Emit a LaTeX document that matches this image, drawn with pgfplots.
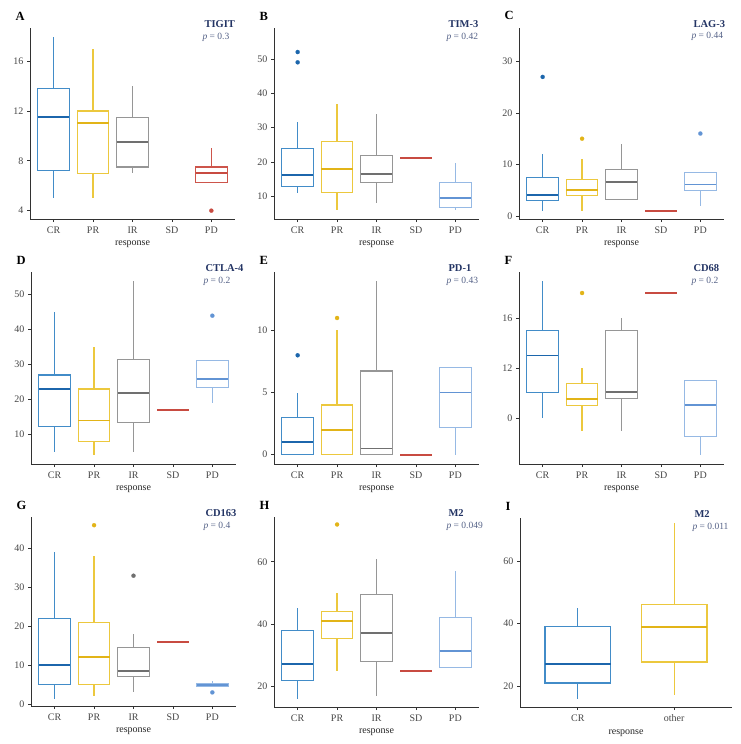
\documentclass[border=0pt]{standalone}
\usepackage{fontspec}
\setmainfont{Liberation Serif}
\usepackage{pgfplots}
\pgfplotsset{compat=1.18}
\usepgfplotslibrary{statistics}
\definecolor{cr}{RGB}{66,140,200}
\definecolor{crM}{RGB}{28,102,172}
\definecolor{pr}{RGB}{236,200,62}
\definecolor{prM}{RGB}{226,180,24}
\definecolor{ir}{RGB}{150,150,150}
\definecolor{irM}{RGB}{112,112,112}
\definecolor{sd}{RGB}{205,85,75}
\definecolor{sdM}{RGB}{200,75,65}
\definecolor{pd}{RGB}{150,185,228}
\definecolor{pdM}{RGB}{98,148,212}
\definecolor{ttl}{RGB}{35,52,100}
\definecolor{pval}{RGB}{85,98,135}
\definecolor{axc}{RGB}{50,50,50}
\definecolor{tlc}{RGB}{70,70,70}
\pgfplotsset{
 panel/.style={scale only axis, width=205pt, height=191pt, anchor=south west,
   axis x line*=bottom, axis y line*=left,
   xmin=0.4, xmax=5.6, xtick={1,2,3,4,5}, xticklabels={CR,PR,IR,SD,PD},
   tick align=outside, major tick length=3pt,
   every tick/.style={axc, line width=0.7pt},
   axis line style={axc, line width=0.8pt},
   ticklabel style={font=\fontsize{10}{12}\selectfont, text=tlc},
   xticklabel style={yshift=-1pt},
   /pgf/number format/assume math mode=true,
   xlabel={response}, xlabel style={font=\fontsize{10}{12}\selectfont, text=black!85, yshift=-1pt},
   clip=false,
 },
 bx/.style={draw=#1, line width=1.2pt, solid, mark=*, mark size=2.1pt,
   mark options={fill=#1M, draw=#1M, line width=0.1pt, solid},
   boxplot/draw direction=y,
   boxplot/every median/.style={draw=#1M, line width=1.9pt},
   boxplot/box extend=0.8, boxplot/whisker extend=0},
}
\newcommand{\ann}[3]{%
  \node[anchor=base west, font=\fontsize{12.5}{14}\selectfont\bfseries, xshift=-18pt, yshift=8pt] at (rel axis cs:0,1) {#1};
  \node[anchor=base west, font=\fontsize{10.5}{12}\selectfont\bfseries, text=ttl, xshift=171pt, yshift=0.5pt] at (rel axis cs:0,1) {#2};
  \node[anchor=base west, font=\fontsize{9.5}{12}\selectfont, text=pval, xshift=169pt, yshift=-11pt] at (rel axis cs:0,1) {\textit{p} = #3};
}
\begin{document}
\begin{tikzpicture}
\path[use as bounding box] (0,0) rectangle (741pt,-744pt);
% A
\begin{axis}[panel, at={(30pt,-219pt)}, ymin=3.33, ymax=18.65, ytick={4,8,12,16}]
\addplot[bx=cr, boxplot prepared={draw position=1, lower whisker=5, lower quartile=7.2, median=11.5, upper quartile=13.8, upper whisker=17.9}] coordinates {};
\addplot[bx=pr, boxplot prepared={draw position=2, lower whisker=5, lower quartile=7, median=11, upper quartile=12, upper whisker=17}] coordinates {};
\addplot[bx=ir, boxplot prepared={draw position=3, lower whisker=7, lower quartile=7.5, median=9.5, upper quartile=11.5, upper whisker=14}] coordinates {};
\addplot[bx=sd, boxplot prepared={draw position=5, lower whisker=6.25, lower quartile=6.25, median=7, upper quartile=7.5, upper whisker=9}] coordinates {(0,4)};
\ann{A}{TIGIT}{0.3}
\end{axis}
% B
\begin{axis}[panel, at={(274pt,-219pt)}, ymin=3.35, ymax=59, ytick={10,20,30,40,50}]
\addplot[bx=cr, boxplot prepared={draw position=1, lower whisker=11, lower quartile=12.9, median=16.1, upper quartile=23.9, upper whisker=31.7}] coordinates {(0,49) (0,52)};
\addplot[bx=pr, boxplot prepared={draw position=2, lower whisker=6, lower quartile=11, median=18, upper quartile=26, upper whisker=37}] coordinates {};
\addplot[bx=ir, boxplot prepared={draw position=3, lower whisker=8, lower quartile=13.9, median=16.5, upper quartile=21.9, upper whisker=34}] coordinates {};
\addplot[bx=sd, boxplot prepared={draw position=4, lower whisker=21, lower quartile=21, median=21, upper quartile=21, upper whisker=21}] coordinates {};
\addplot[bx=pd, boxplot prepared={draw position=5, lower whisker=6, lower quartile=6.6, median=9.4, upper quartile=13.9, upper whisker=19.8}] coordinates {};
\ann{B}{TIM-3}{0.42}
\end{axis}
% C
\begin{axis}[panel, at={(519pt,-219pt)}, ymin=-0.6, ymax=36.5, ytick={0,10,20,30}]
\addplot[bx=cr, boxplot prepared={draw position=1, lower whisker=1, lower quartile=3, median=4.1, upper quartile=7.5, upper whisker=12}] coordinates {(0,27)};
\addplot[bx=pr, boxplot prepared={draw position=2, lower whisker=1, lower quartile=4, median=5, upper quartile=7, upper whisker=11}] coordinates {(0,15)};
\addplot[bx=ir, boxplot prepared={draw position=3, lower whisker=3, lower quartile=3.25, median=6.5, upper quartile=9, upper whisker=14}] coordinates {};
\addplot[bx=sd, boxplot prepared={draw position=4, lower whisker=1, lower quartile=1, median=1, upper quartile=1, upper whisker=1}] coordinates {};
\addplot[bx=pd, boxplot prepared={draw position=5, lower whisker=2, lower quartile=5, median=6.1, upper quartile=8.5, upper whisker=8.5}] coordinates {(0,16)};
\ann{C}{LAG-3}{0.44}
\end{axis}
% D
\begin{axis}[panel, at={(31pt,-464pt)}, height=192pt, ymin=1.56, ymax=56.5, ytick={10,20,30,40,50}]
\addplot[bx=cr, boxplot prepared={draw position=1, lower whisker=5, lower quartile=12.4, median=23, upper quartile=27, upper whisker=45}] coordinates {};
\addplot[bx=pr, boxplot prepared={draw position=2, lower whisker=4, lower quartile=8, median=14, upper quartile=23, upper whisker=35}] coordinates {};
\addplot[bx=ir, boxplot prepared={draw position=3, lower whisker=5, lower quartile=13.4, median=22, upper quartile=31.5, upper whisker=54}] coordinates {};
\addplot[bx=sd, boxplot prepared={draw position=4, lower whisker=17, lower quartile=17, median=17, upper quartile=17, upper whisker=17}] coordinates {};
\addplot[bx=pd, boxplot prepared={draw position=5, lower whisker=19, lower quartile=23.4, median=26, upper quartile=31.2, upper whisker=31.2}] coordinates {(0,44)};
\ann{D}{CTLA-4}{0.2}
\end{axis}
% E
\begin{axis}[panel, at={(274pt,-464pt)}, height=192pt, ymin=-0.75, ymax=14.7, ytick={0,5,10}]
\addplot[bx=cr, boxplot prepared={draw position=1, lower whisker=0, lower quartile=0, median=1, upper quartile=3, upper whisker=5}] coordinates {(0,8)};
\addplot[bx=pr, boxplot prepared={draw position=2, lower whisker=0, lower quartile=0, median=2, upper quartile=4, upper whisker=10}] coordinates {(0,11)};
\addplot[bx=ir, boxplot prepared={draw position=3, lower whisker=0, lower quartile=0, median=0.5, upper quartile=6.73, upper whisker=14}] coordinates {};
\addplot[bx=sd, boxplot prepared={draw position=4, lower whisker=0, lower quartile=0, median=0, upper quartile=0, upper whisker=0}] coordinates {};
\addplot[bx=pd, boxplot prepared={draw position=5, lower whisker=0, lower quartile=2.2, median=5, upper quartile=7, upper whisker=7}] coordinates {};
\ann{E}{PD-1}{0.43}
\end{axis}
% F
\begin{axis}[panel, at={(519pt,-464pt)}, height=192pt, ymin=4.32, ymax=19.68, ytick={8,12,16}, yticklabels={0,12,16}]
\addplot[bx=cr, boxplot prepared={draw position=1, lower whisker=8, lower quartile=10.05, median=13, upper quartile=15, upper whisker=19}] coordinates {};
\addplot[bx=pr, boxplot prepared={draw position=2, lower whisker=7, lower quartile=9, median=9.55, upper quartile=10.75, upper whisker=12}] coordinates {(0,18)};
\addplot[bx=ir, boxplot prepared={draw position=3, lower whisker=7, lower quartile=9.55, median=10.05, upper quartile=15, upper whisker=16}] coordinates {};
\addplot[bx=sd, boxplot prepared={draw position=4, lower whisker=18, lower quartile=18, median=18, upper quartile=18, upper whisker=18}] coordinates {};
\addplot[bx=pd, boxplot prepared={draw position=5, lower whisker=5.07, lower quartile=6.5, median=9.04, upper quartile=11, upper whisker=11}] coordinates {};
\ann{F}{CD68}{0.2}
\end{axis}
% G
\begin{axis}[panel, at={(31pt,-706pt)}, height=189pt, ymin=-0.5, ymax=48.1, ytick={0,10,20,30,40}]
\addplot[bx=cr, boxplot prepared={draw position=1, lower whisker=1.2, lower quartile=5, median=10, upper quartile=22, upper whisker=39}] coordinates {};
\addplot[bx=pr, boxplot prepared={draw position=2, lower whisker=2, lower quartile=5, median=12, upper quartile=21, upper whisker=38}] coordinates {(0,46)};
\addplot[bx=ir, boxplot prepared={draw position=3, lower whisker=3, lower quartile=7, median=8.5, upper quartile=14.5, upper whisker=18}] coordinates {(0,33)};
\addplot[bx=sd, boxplot prepared={draw position=4, lower whisker=16, lower quartile=16, median=16, upper quartile=16, upper whisker=16}] coordinates {};
\addplot[bx=pd, boxplot prepared={draw position=5, lower whisker=4.6, lower quartile=4.6, median=5, upper quartile=5.3, upper whisker=5.9}] coordinates {(0,3)};
\ann{G}{CD163}{0.4}
\end{axis}
% H
\begin{axis}[panel, at={(274pt,-707pt)}, height=190pt, ymin=13.3, ymax=74.4, ytick={20,40,60}]
\addplot[bx=cr, boxplot prepared={draw position=1, lower whisker=16, lower quartile=21.9, median=27, upper quartile=38, upper whisker=45}] coordinates {};
\addplot[bx=pr, boxplot prepared={draw position=2, lower whisker=25, lower quartile=35.3, median=41, upper quartile=44, upper whisker=50}] coordinates {(0,72)};
\addplot[bx=ir, boxplot prepared={draw position=3, lower whisker=17, lower quartile=28, median=37, upper quartile=49.5, upper whisker=61}] coordinates {};
\addplot[bx=sd, boxplot prepared={draw position=4, lower whisker=25, lower quartile=25, median=25, upper quartile=25, upper whisker=25}] coordinates {};
\addplot[bx=pd, boxplot prepared={draw position=5, lower whisker=25.9, lower quartile=25.9, median=31.4, upper quartile=42, upper whisker=57}] coordinates {};
\ann{H}{M2}{0.049}
\end{axis}
% I
\begin{axis}[panel, at={(520pt,-707pt)}, width=212pt, height=189pt, xmin=0.4, xmax=2.6, xtick={1,2}, xticklabels={CR,other}, ymin=13.3, ymax=73.7, ytick={20,40,60}]
\addplot[bx=cr, boxplot/box extend=0.68, boxplot prepared={draw position=1, lower whisker=16, lower quartile=21, median=27, upper quartile=39, upper whisker=45}] coordinates {};
\addplot[bx=pr, boxplot/box extend=0.68, boxplot prepared={draw position=2, lower whisker=17, lower quartile=27.7, median=39, upper quartile=46, upper whisker=72}] coordinates {};
\ann{I}{M2}{0.011}
\end{axis}
\end{tikzpicture}
\end{document}
